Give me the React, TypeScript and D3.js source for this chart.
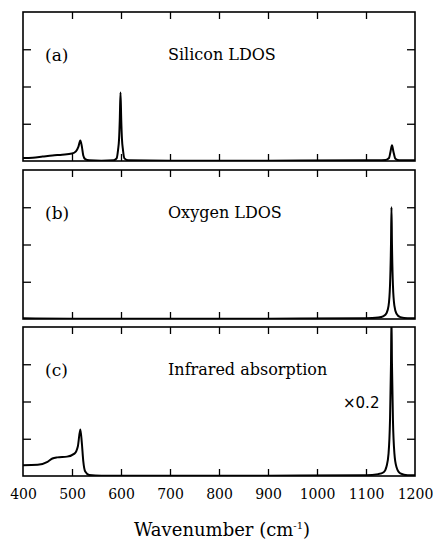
import React, { useRef, useEffect } from "react";
import * as d3 from "d3";

// wavenumber (cm^-1), intensity (arb. units, 4 divisions per panel)
const siliconX = [400, 420, 440, 460, 480, 500, 508, 513, 517, 520, 523, 527, 535, 560, 585, 591, 594, 596, 597.5, 599, 600.5, 602, 604, 607, 615, 700, 900, 1100, 1140, 1147, 1150, 1153, 1156, 1160, 1168, 1200];
const siliconY = [0.08, 0.09, 0.12, 0.15, 0.17, 0.2, 0.26, 0.38, 0.55, 0.4, 0.15, 0.05, 0.02, 0.01, 0.02, 0.07, 0.3, 0.58, 1.1, 1.84, 1.1, 0.58, 0.3, 0.07, 0.02, 0.01, 0.01, 0.02, 0.03, 0.08, 0.25, 0.42, 0.25, 0.06, 0.02, 0.02];

const oxygenX = [400, 500, 700, 900, 1100, 1125, 1136, 1142, 1146, 1149, 1151, 1152, 1153, 1155, 1158, 1162, 1170, 1185, 1200];
const oxygenY = [0.02, 0.01, 0.01, 0.01, 0.02, 0.04, 0.08, 0.16, 0.35, 0.9, 2.0, 3.0, 2.0, 0.9, 0.35, 0.15, 0.05, 0.02, 0.02];

const irX = [400, 430, 450, 460, 470, 490, 505, 512, 517, 520, 523, 527, 535, 560, 700, 900, 1100, 1125, 1136, 1142, 1146, 1149, 1151, 1152, 1153, 1155, 1158, 1162, 1170, 1185, 1200];
const irY = [0.29, 0.3, 0.38, 0.47, 0.5, 0.52, 0.6, 0.8, 1.25, 0.9, 0.4, 0.12, 0.03, 0.01, 0.01, 0.01, 0.02, 0.05, 0.1, 0.26, 0.6, 1.5, 3.0, 4.3, 3.0, 1.5, 0.6, 0.25, 0.07, 0.02, 0.02];

const panelTags = ["(a)", "(b)", "(c)"];
const panelTitles = ["Silicon LDOS", "Oxygen LDOS", "Infrared absorption"];
const xTickValues = [400, 500, 600, 700, 800, 900, 1000, 1100, 1200];
const yTickValues = [1, 2, 3];

const width = 433;
const height = 547;
const left = 23;
const right = 415;
const panelTops = [12, 170, 327];
const panelH = 149;

const App = () => {
  const svgRef = useRef(null);

  useEffect(() => {
    const svg = d3.select(svgRef.current);
    svg.selectAll("*").remove();

    const x = d3.scaleLinear().domain([400, 1200]).range([left, right]);
    const series = [
      siliconX.map((v, i) => [v, siliconY[i]]),
      oxygenX.map((v, i) => [v, oxygenY[i]]),
      irX.map((v, i) => [v, irY[i]]),
    ];
    const inner = xTickValues.slice(1, -1);

    panelTops.forEach((top, p) => {
      const bottom = top + panelH;
      const y = d3.scaleLinear().domain([0, 4]).range([bottom, top]);
      const g = svg.append("g");

      g.append("clipPath")
        .attr("id", `clip${p}`)
        .append("rect")
        .attr("x", left)
        .attr("y", top)
        .attr("width", right - left)
        .attr("height", panelH);

      const line = d3
        .line()
        .x((d) => x(d[0]))
        .y((d) => y(d[1]))
        .curve(d3.curveMonotoneX);

      g.append("path")
        .datum(series[p])
        .attr("d", line)
        .attr("fill", "none")
        .attr("stroke", "#000")
        .attr("stroke-width", 2)
        .attr("clip-path", `url(#clip${p})`);

      // inward ticks on all four sides
      g.append("g")
        .attr("transform", `translate(0,${bottom})`)
        .call(d3.axisBottom(x).tickValues(inner).tickSize(-7).tickFormat(() => ""))
        .call((a) => a.select(".domain").remove());
      g.append("g")
        .attr("transform", `translate(0,${top})`)
        .call(d3.axisTop(x).tickValues(inner).tickSize(-7).tickFormat(() => ""))
        .call((a) => a.select(".domain").remove());
      g.append("g")
        .attr("transform", `translate(${left},0)`)
        .call(d3.axisLeft(y).tickValues(yTickValues).tickSize(-8).tickFormat(() => ""))
        .call((a) => a.select(".domain").remove());
      g.append("g")
        .attr("transform", `translate(${right},0)`)
        .call(d3.axisRight(y).tickValues(yTickValues).tickSize(-8).tickFormat(() => ""))
        .call((a) => a.select(".domain").remove());
      g.selectAll(".tick line").attr("stroke", "#000").attr("stroke-width", 1.3);

      g.append("rect")
        .attr("x", left)
        .attr("y", top)
        .attr("width", right - left)
        .attr("height", panelH)
        .attr("fill", "none")
        .attr("stroke", "#000")
        .attr("stroke-width", 1.6);

      g.append("text")
        .attr("x", 45)
        .attr("y", top + 49)
        .attr("font-family", "DejaVu Serif")
        .attr("font-size", 17)
        .text(panelTags[p]);
      g.append("text")
        .attr("x", 168)
        .attr("y", top + 48)
        .attr("font-family", "DejaVu Serif")
        .attr("font-size", 16)
        .text(panelTitles[p]);
    });

    svg.append("text")
      .attr("x", 343)
      .attr("y", 408)
      .attr("font-family", "DejaVu Sans")
      .attr("font-size", 15)
      .text("×0.2");

    const lastBottom = panelTops[2] + panelH;
    svg.append("g")
      .attr("transform", `translate(0,${lastBottom})`)
      .call(d3.axisBottom(x).tickValues(xTickValues).tickSize(0).tickPadding(13).tickFormat(d3.format("d")))
      .call((a) => a.select(".domain").remove())
      .selectAll("text")
      .attr("font-family", "DejaVu Serif")
      .attr("font-size", 14)
      .attr("fill", "#000");

    const title = svg.append("text")
      .attr("x", 222)
      .attr("y", 536)
      .attr("text-anchor", "middle")
      .attr("font-family", "DejaVu Serif")
      .attr("font-size", 18);
    title.append("tspan").text("Wavenumber (cm");
    title.append("tspan").attr("font-size", 10).attr("dy", -7).text("-1");
    title.append("tspan").attr("dy", 7).text(")");
  }, []);

  return (
    <svg
      ref={svgRef}
      width={width}
      height={height}
      style={{ position: "absolute", left: 0, top: 0, background: "#fff" }}
    />
  );
};

export default App;
